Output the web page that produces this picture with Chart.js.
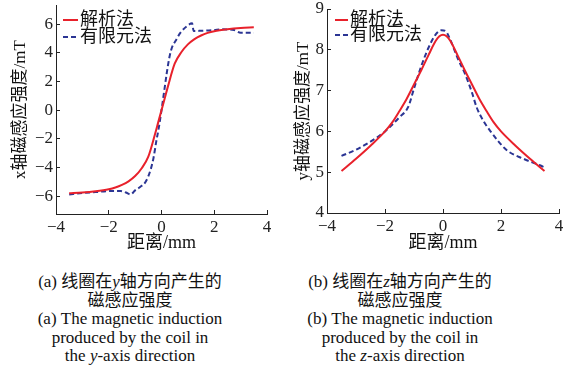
<!DOCTYPE html>
<html>
<head>
<meta charset="utf-8">
<script src="https://cdn.jsdelivr.net/npm/chart.js@4.4.0/dist/chart.umd.min.js"></script>
<style>
body { margin: 0; background: #fff; }
#wrap { position: relative; width: 572px; height: 377px; overflow: hidden; }
canvas { position: absolute; top: 0; }
.cap { position: absolute; top: 273px; width: 280px; text-align: center;
       font: 17px/18.5px "Liberation Serif", "Noto Sans CJK SC", serif; color: #111; }
</style>
</head>
<body>
<div id="wrap">
  <canvas id="chartA" width="286" height="262" style="left:0"></canvas>
  <canvas id="chartB" width="286" height="262" style="left:286px"></canvas>
  <div class="cap" style="left:-10px">
    (a) 线圈在<i>y</i>轴方向产生的<br>磁感应强度<br>(a) The magnetic induction<br>produced by the coil in<br>the <i>y</i>-axis direction
  </div>
  <div class="cap" style="left:260px">
    (b) 线圈在<i>z</i>轴方向产生的<br>磁感应强度<br>(b) The magnetic induction<br>produced by the coil in<br>the <i>z</i>-axis direction
  </div>
</div>
<script>
// series names
const seriesNames = ['解析法', '有限元法'];
const xTickValues = [-4, -2, 0, 2, 4];

// (a) x-axis field, coil along y
const aTicksY = [-6, -4, -2, 0, 2, 4, 6];
const aAnalyticX = [-3.5, -3, -2.5, -2, -1.75, -1.5, -1.25, -1, -0.75, -0.5, -0.25, -0.125, 0,
                    0.125, 0.25, 0.5, 0.75, 1, 1.25, 1.5, 1.75, 2, 2.5, 3, 3.5];
const aAnalyticY = [-5.8, -5.75, -5.66, -5.52, -5.4, -5.22, -4.97, -4.6, -4.05, -3.25, -1.7, -0.85, 0,
                    0.85, 1.7, 3.25, 4.05, 4.6, 4.97, 5.22, 5.4, 5.52, 5.66, 5.75, 5.8];
const aFemX = [-3.5, -3, -2.5, -2, -1.55, -1.35, -1.17, -1.0, -0.8, -0.6, -0.42, -0.3, -0.2, -0.1, 0,
               0.1, 0.2, 0.3, 0.4, 0.53, 0.72, 0.97, 1.16, 1.22, 1.5, 2, 2.25, 2.75, 3.0, 3.5];
const aFemY = [-5.88, -5.78, -5.72, -5.65, -5.65, -5.75, -5.88, -5.6, -5.35, -5.0, -4.2, -3.3, -2.2, -1.2, 0,
               1.3, 2.6, 3.7, 4.4, 4.83, 5.42, 5.88, 6.07, 5.53, 5.55, 5.6, 5.65, 5.6, 5.42, 5.42];

// (b) y-axis field, coil along z
const bTicksY = [4, 5, 6, 7, 8, 9];
const bAnalyticX = [-3.5, -3, -2.5, -2, -1.75, -1.5, -1.25, -1, -0.75, -0.5, -0.25, -0.125, 0,
                    0.125, 0.25, 0.5, 0.75, 1, 1.25, 1.5, 1.75, 2, 2.5, 3, 3.5];
const bAnalyticY = [5.03, 5.33, 5.65, 6.0, 6.22, 6.5, 6.8, 7.15, 7.5, 7.87, 8.22, 8.33, 8.37,
                    8.33, 8.22, 7.87, 7.5, 7.15, 6.8, 6.5, 6.22, 6.0, 5.65, 5.33, 5.03];
const bFemX = [-3.5, -3, -2.5, -2, -1.5, -1.2, -1, -0.75, -0.5, -0.25, -0.05, 0.1, 0.25, 0.36, 0.5,
               0.76, 1, 1.16, 1.4, 1.62, 2.2, 2.77, 3.34, 3.5];
const bFemY = [5.4, 5.55, 5.75, 6.0, 6.35, 6.6, 7.05, 7.6, 8.05, 8.38, 8.48, 8.45, 8.25, 8.06, 7.8,
               7.41, 6.95, 6.59, 6.25, 6.02, 5.54, 5.33, 5.17, 5.12];

const RED = '#e8212b';
const BLUE = '#2b3594';
const serif = '"Liberation Serif", "Noto Sans CJK SC"';

const pts = (xs, ys) => xs.map((x, i) => ({ x: x, y: ys[i] }));
const minus = v => String(v).replace('-', '\u2212');

// legend drawn inside the plot area, top-left
const inlineLegend = {
  id: 'inlineLegend',
  afterDraw(chart, args, opts) {
    const { ctx, chartArea } = chart;
    ctx.save();
    ctx.font = '18px ' + serif;
    ctx.textBaseline = 'middle';
    chart.data.datasets.forEach((ds, i) => {
      const x = chartArea.left + opts.x0;
      const y = chartArea.top + opts.y0 + i * opts.step;
      ctx.strokeStyle = ds.borderColor;
      ctx.lineWidth = ds.borderWidth;
      ctx.setLineDash(ds.borderDash || []);
      ctx.beginPath();
      ctx.moveTo(x, y);
      ctx.lineTo(x + opts.len, y);
      ctx.stroke();
      ctx.setLineDash([]);
      ctx.fillStyle = '#111';
      ctx.fillText(ds.label, x + opts.len + 2, y);
    });
    ctx.restore();
  }
};

function makeChart(id, cfg) {
  return new Chart(document.getElementById(id), {
    type: 'line',
    data: {
      datasets: [
        { label: seriesNames[0], data: pts(cfg.ax, cfg.ay), borderColor: RED, borderWidth: 2,
          pointRadius: 0, cubicInterpolationMode: 'monotone', fill: false },
        { label: seriesNames[1], data: pts(cfg.fx, cfg.fy), borderColor: BLUE, borderWidth: 2,
          borderDash: [5, 3], pointRadius: 0, cubicInterpolationMode: 'monotone', fill: false }
      ]
    },
    plugins: [inlineLegend],
    options: {
      responsive: false,
      animation: false,
      devicePixelRatio: 1,
      layout: { padding: { left: 0, top: cfg.top, right: cfg.right, bottom: 0 } },
      plugins: {
        legend: { display: false },
        tooltip: { enabled: false },
        inlineLegend: cfg.legend
      },
      scales: {
        x: {
          type: 'linear', min: -4, max: 4,
          afterBuildTicks: s => { s.ticks = xTickValues.map(v => ({ value: v })); },
          afterFit: s => { s.height = cfg.xh; s.paddingLeft = 0; s.paddingRight = 0; },
          border: { display: true, color: '#222', width: 1 },
          grid: { drawOnChartArea: false, tickLength: -4, color: '#222' },
          ticks: { font: { family: serif, size: 17 }, color: '#222', padding: 7, maxRotation: 0,
                   callback: v => minus(v) },
          title: { display: true, text: '距离/mm', color: '#111',
                   font: { family: serif, size: 18 }, padding: { top: 0, bottom: 8 } }
        },
        y: {
          type: 'linear', min: cfg.ymin, max: cfg.ymax,
          afterBuildTicks: s => { s.ticks = cfg.yticks.map(v => ({ value: v })); },
          afterFit: s => { s.width = cfg.yw; s.paddingTop = 0; s.paddingBottom = 0; },
          border: { display: true, color: '#222', width: 1 },
          grid: { drawOnChartArea: false, tickLength: -4, color: '#222' },
          ticks: { font: { family: serif, size: 17 }, color: '#222', padding: 7,
                   callback: v => minus(v) },
          title: { display: true, text: cfg.ytitle, color: '#111',
                   font: { family: serif, size: 17 }, padding: { top: cfg.ytp, bottom: 0 } }
        }
      }
    }
  });
}

makeChart('chartA', {
  ax: aAnalyticX, ay: aAnalyticY, fx: aFemX, fy: aFemY,
  ymin: -7.25, ymax: 7.35, yticks: aTicksY,
  top: 5, right: 19, yw: 56, xh: 48, ytp: 10,
  ytitle: 'x轴磁感应强度/mT',
  legend: { x0: 7, y0: 15, step: 17, len: 15 }
});

makeChart('chartB', {
  ax: bAnalyticX, ay: bAnalyticY, fx: bFemX, fy: bFemY,
  ymin: 4, ymax: 9, yticks: bTicksY,
  top: 9, right: 13, yw: 41, xh: 49, ytp: 7,
  ytitle: 'y轴磁感应强度/mT',
  legend: { x0: 8, y0: 11, step: 15, len: 13 }
});
</script>
</body>
</html>
